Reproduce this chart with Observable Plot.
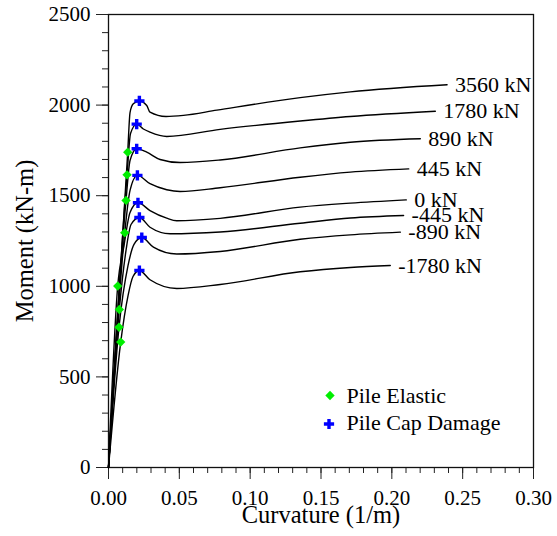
<!DOCTYPE html>
<html><head><meta charset="utf-8">
<script src="https://cdn.jsdelivr.net/npm/d3@7"></script>
<script src="https://cdn.jsdelivr.net/npm/@observablehq/plot@0.6"></script>
<style>
body{margin:0;background:#fff}
#chart{width:557px;height:536px}
#chart svg, #chart svg text{font-family:"Liberation Serif","Times New Roman",Times,serif !important;}
</style>
</head><body><div id="chart"></div>
<script>
// Axial load cases (curve labels)
const loadLabels = ["3560 kN","1780 kN","890 kN","445 kN","0 kN","-445 kN","-890 kN","-1780 kN"];

// Moment-curvature curves
const curv_3560 = [0, 0.01357, 0.0152, 0.0175, 0.0218, 0.0270, 0.0293, 0.0406, 0.0529, 0.0765, 0.1353, 0.1707, 0.2390];
const mom_3560  = [0, 1740, 1959, 2007, 2023, 1998, 1961, 1937, 1943, 1972, 2041, 2073, 2112];
const curv_1780 = [0, 0.0131, 0.01555, 0.0199, 0.0246, 0.0293, 0.0411, 0.0788, 0.1353, 0.1707, 0.2307];
const mom_1780  = [0, 1615, 1843, 1895, 1868, 1851, 1827, 1866, 1912, 1937, 1966];
const curv_890  = [0, 0.01237, 0.0152, 0.0199, 0.0270, 0.0364, 0.0505, 0.0788, 0.1353, 0.1707, 0.2201];
const mom_890   = [0, 1474, 1694, 1759, 1740, 1700, 1683, 1697, 1764, 1795, 1814];
const curv_445  = [0, 0.01145, 0.0152, 0.0204, 0.0293, 0.0411, 0.0505, 0.0788, 0.1353, 0.1707, 0.2119];
const mom_445   = [0, 1295, 1529, 1612, 1566, 1533, 1523, 1544, 1602, 1630, 1648];
const curv_0    = [0, 0.0065, 0.01095, 0.0152, 0.0208, 0.0293, 0.0411, 0.0482, 0.0788, 0.1353, 0.1707, 0.2102];
const mom_0     = [0, 1001, 1225, 1407, 1461, 1418, 1376, 1362, 1375, 1437, 1459, 1477];
const curv_m445 = [0, 0.00763, 0.01237, 0.0159, 0.0218, 0.0293, 0.0435, 0.0788, 0.1353, 0.1707, 0.2083];
const mom_m445  = [0, 872, 1198, 1341, 1380, 1326, 1290, 1300, 1348, 1377, 1391];
const curv_m890 = [0, 0.00742, 0.0138, 0.0180, 0.0235, 0.0317, 0.0482, 0.0788, 0.1353, 0.1707, 0.2060];
const mom_m890  = [0, 774, 1115, 1231, 1269, 1216, 1178, 1192, 1260, 1284, 1299];
const curv_m1780= [0, 0.00862, 0.0138, 0.0173, 0.0218, 0.0293, 0.0482, 0.0788, 0.1353, 0.1707, 0.1989];
const mom_m1780 = [0, 692, 949, 1054, 1087, 1036, 988, 1010, 1080, 1104, 1115];

// Limit-state markers
const elasticCurv   = [0.01357, 0.0131, 0.01237, 0.01145, 0.0065, 0.00763, 0.00742, 0.00862];
const elasticMoment = [1740, 1615, 1474, 1295, 1001, 872, 774, 692];
const damageCurv    = [0.0218, 0.0199, 0.0199, 0.0204, 0.0208, 0.0218, 0.0235, 0.0218];
const damageMoment  = [2023, 1895, 1759, 1612, 1461, 1380, 1269, 1087];

// Axes
const xTicks = [0, 0.05, 0.10, 0.15, 0.20, 0.25, 0.30];
const yTicks = [0, 500, 1000, 1500, 2000, 2500];
const legendLabels = ["Pile Elastic", "Pile Cap Damage"];

const curvList = [curv_3560, curv_1780, curv_890, curv_445, curv_0, curv_m445, curv_m890, curv_m1780];
const momList  = [mom_3560, mom_1780, mom_890, mom_445, mom_0, mom_m445, mom_m890, mom_m1780];
const rows = loadLabels.flatMap((label, i) => curvList[i].map((c, j) => ({label, curvature: c, moment: momList[i][j]})));
const ends = loadLabels.map((label, i) => ({label, curvature: curvList[i].at(-1), moment: momList[i].at(-1)}));
const elastic = elasticCurv.map((c, i) => ({curvature: c, moment: elasticMoment[i]}));
const damage  = damageCurv.map((c, i) => ({curvature: c, moment: damageMoment[i]}));
const xMinor = d3.range(0, 31).map(i => i / 100);
const yMinor = d3.range(0, 26).map(i => i * 100);

const FONT = "Liberation Serif";
const GREEN = "#00ee00", BLUE = "#0000ff";

const chart = Plot.plot({
  width: 557, height: 536,
  marginLeft: 108, marginRight: 24, marginTop: 14, marginBottom: 69,
  style: {fontFamily: FONT, fontSize: "21px", background: "#fff", color: "#000"},
  x: {domain: [0, 0.3]},
  y: {domain: [0, 2500]},
  marks: [
    Plot.axisX(xMinor, {tickSize: 6, tickFormat: () => "", label: null, stroke: "#222"}),
    Plot.axisX(xTicks, {tickSize: 12, tickPadding: 11, tickFormat: d => d.toFixed(2), label: null, stroke: "#222", fontSize: 21, fontFamily: FONT}),
    Plot.axisY(yMinor, {tickSize: 6, tickFormat: () => "", label: null, stroke: "#222"}),
    Plot.axisY(yTicks, {tickSize: 12, tickPadding: 6, tickFormat: d => String(d), label: null, stroke: "#222", fontSize: 21, fontFamily: FONT}),
    Plot.frame({stroke: "#111", strokeWidth: 1.3}),
    Plot.line(rows, {x: "curvature", y: "moment", z: "label", stroke: "#000", strokeWidth: 1.4, curve: "monotone-x"}),
    Plot.text(ends, {x: "curvature", y: "moment", text: "label", textAnchor: "start", dx: 8, fontSize: 22, fontFamily: FONT}),
    Plot.dot(elastic, {x: "curvature", y: "moment", symbol: "diamond2", r: 4.2, fill: GREEN, stroke: "none"}),
    Plot.dot(damage, {x: "curvature", y: "moment", symbol: "cross", r: 4.3, fill: BLUE, stroke: "none"}),
    // legend
    Plot.dot([legendLabels[0]], {frameAnchor: "bottom-left", dx: 221.5, dy: -72, symbol: "diamond2", r: 4.2, fill: GREEN, stroke: "none"}),
    Plot.dot([legendLabels[1]], {frameAnchor: "bottom-left", dx: 220.5, dy: -43.5, symbol: "cross", r: 4.3, fill: BLUE, stroke: "none"}),
    Plot.text([legendLabels[0]], {frameAnchor: "bottom-left", lineAnchor: "middle", dx: 238, dy: -72, textAnchor: "start", fontSize: 22, fontFamily: FONT}),
    Plot.text([legendLabels[1]], {frameAnchor: "bottom-left", lineAnchor: "middle", dx: 238, dy: -44.5, textAnchor: "start", fontSize: 22, fontFamily: FONT}),
    // axis titles
    Plot.text(["Curvature (1/m)"], {frameAnchor: "bottom", lineAnchor: "middle", textAnchor: "middle", dy: 48, fontSize: 24.5, fontFamily: FONT}),
    Plot.text(["Moment (kN-m)"], {frameAnchor: "left", lineAnchor: "middle", textAnchor: "middle", dx: -83, rotate: -90, fontSize: 24.5, fontFamily: FONT})
  ]
});
document.getElementById("chart").appendChild(chart);
</script>
</body></html>
